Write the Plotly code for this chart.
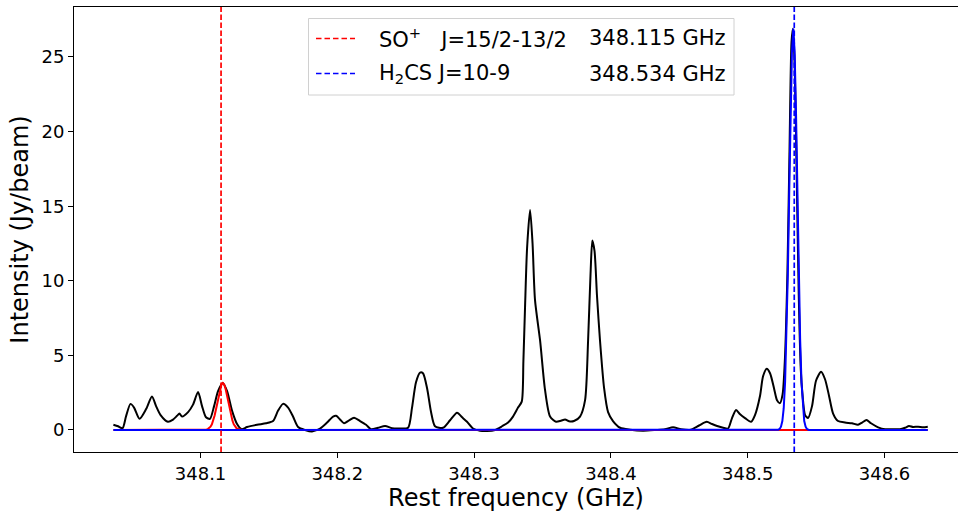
import plotly.graph_objects as go

# Observed spectrum (GHz, Jy/beam)
freq_obs = [
    348.0363, 348.0397, 348.0430, 348.0455, 348.0488, 348.0514, 348.0554, 348.0602,
    348.0645, 348.0675, 348.0708, 348.0762, 348.0799, 348.0828, 348.0846, 348.0865,
    348.0909, 348.0945, 348.0982, 348.1011, 348.1040, 348.1069, 348.1099, 348.1128,
    348.1162, 348.1194, 348.1230, 348.1267, 348.1301, 348.1340, 348.1413, 348.1479,
    348.1530, 348.1567, 348.1603, 348.1640, 348.1676, 348.1713, 348.1764, 348.1815,
    348.1874, 348.1925, 348.1969, 348.1991, 348.2020, 348.2049, 348.2086, 348.2122,
    348.2166, 348.2210, 348.2246, 348.2298, 348.2349, 348.2400, 348.2458, 348.2517,
    348.2546, 348.2575, 348.2605, 348.2626, 348.2656, 348.2685, 348.2714, 348.2773,
    348.2824, 348.2875, 348.2912, 348.2948, 348.2992, 348.3043, 348.3094, 348.3153,
    348.3204, 348.3248, 348.3284, 348.3321, 348.3348, 348.3360, 348.3372, 348.3387,
    348.3409, 348.3427, 348.3445, 348.3482, 348.3518, 348.3555, 348.3599, 348.3635,
    348.3665, 348.3694, 348.3730, 348.3774, 348.3811, 348.3833, 348.3851, 348.3864,
    348.3880, 348.3898, 348.3920, 348.3950, 348.3979, 348.4015, 348.4067, 348.4140,
    348.4235, 348.4330, 348.4395, 348.4454, 348.4512, 348.4578, 348.4644, 348.4700,
    348.4739, 348.4776, 348.4820, 348.4856, 348.4885, 348.4915, 348.4944, 348.4980,
    348.5024, 348.5053, 348.5090, 348.5112, 348.5139, 348.5163, 348.5192, 348.5214,
    348.5236, 348.5255, 348.5272, 348.5290, 348.5305, 348.5320, 348.5330, 348.5343,
    348.5358, 348.5373, 348.5388, 348.5400, 348.5419, 348.5441, 348.5470, 348.5499,
    348.5536, 348.5565, 348.5594, 348.5624, 348.5660, 348.5711, 348.5762, 348.5806,
    348.5836, 348.5868, 348.5901, 348.5953, 348.6004, 348.6062, 348.6113, 348.6150,
    348.6179, 348.6208, 348.6245, 348.6282, 348.6316,
]
flux_obs = [
    0.35, 0.25, 0.12, 0.90, 1.75, 1.50, 0.75, 1.40,
    2.25, 1.60, 1.00, 0.55, 0.70, 0.95, 1.10, 0.90,
    1.20, 1.70, 2.55, 1.60, 0.85, 0.75, 1.60, 2.60,
    3.15, 2.60, 1.30, 0.40, 0.05, 0.20, 0.35, 0.45,
    0.60, 1.30, 1.75, 1.50, 0.90, 0.20, 0.00, -0.10,
    0.10, 0.50, 0.90, 0.95, 0.70, 0.45, 0.65, 0.82,
    0.60, 0.35, 0.05, 0.15, 0.27, 0.12, 0.10, 0.15,
    1.50, 3.20, 3.85, 3.80, 2.80, 1.20, 0.25, 0.15,
    0.65, 1.15, 0.85, 0.55, 0.10, -0.05, -0.07, 0.00,
    0.25, 0.50, 0.90, 1.50, 1.90, 4.60, 8.20, 12.20,
    14.75, 12.50, 8.70, 6.00, 2.70, 0.90, 0.55, 0.62,
    0.70, 0.58, 0.60, 0.90, 2.00, 6.00, 10.50, 12.70,
    12.00, 9.00, 6.00, 2.80, 1.20, 0.60, 0.15, 0.02,
    -0.05, 0.00, 0.05, 0.18, 0.05, 0.00, 0.30, 0.55,
    0.40, 0.27, 0.15, 0.10, 0.80, 1.34, 1.05, 0.80,
    0.55, 1.00, 2.30, 3.60, 4.10, 3.80, 2.80, 2.00,
    1.80, 2.40, 4.80, 10.50, 18.50, 26.00, 26.90, 24.50,
    17.00, 9.00, 4.00, 2.40, 1.00, 0.80, 1.60, 3.30,
    3.90, 3.40, 2.30, 1.10, 0.60, 0.50, 0.45, 0.35,
    0.50, 0.67, 0.45, 0.18, 0.05, 0.05, 0.05, 0.15,
    0.27, 0.20, 0.22, 0.18, 0.22,
]

# Gaussian fit of the SO+ line
so_fit_freq = [
    348.0363, 348.1023,
    348.1033, 348.1043, 348.1053, 348.1063, 348.1073, 348.1083, 348.1093, 348.1103,
    348.1113, 348.1123, 348.1133, 348.1143, 348.1153, 348.1163, 348.1173, 348.1183,
    348.1193, 348.1203, 348.1213, 348.1223, 348.1233, 348.1243, 348.1253, 348.1263,
    348.1273, 348.1283, 348.1293,
    348.1303, 348.6316,
]
so_fit_flux = [
    0.0, 0.0,
    0.01, 0.03, 0.06, 0.12, 0.22, 0.38, 0.63, 0.97,
    1.39, 1.86, 2.34, 2.76, 3.05, 3.15, 3.05, 2.76,
    2.34, 1.86, 1.39, 0.97, 0.63, 0.38, 0.22, 0.12,
    0.06, 0.03, 0.01,
    0.0, 0.0,
]

# Gaussian fit of the H2CS line
h2cs_fit_freq = [
    348.0363, 348.5213,
    348.5223, 348.5233, 348.5243, 348.5253, 348.5263, 348.5273, 348.5283, 348.5293,
    348.5303, 348.5313, 348.5323, 348.5333, 348.5343, 348.5353, 348.5363, 348.5373,
    348.5383, 348.5393, 348.5403, 348.5413, 348.5423, 348.5433, 348.5443,
    348.5453, 348.6316,
]
h2cs_fit_flux = [
    0.0, 0.0,
    0.02, 0.07, 0.22, 0.60, 1.46, 3.20, 6.10, 10.40,
    15.80, 21.20, 25.30, 26.90, 25.30, 21.20, 15.80, 10.40,
    6.10, 3.20, 1.46, 0.60, 0.22, 0.07, 0.02,
    0.0, 0.0,
]

# Catalogue rest frequencies of the identified transitions
line_freqs = [348.115, 348.534]
line_colors = ["red", "blue"]
line_names = ["SO<sup>+</sup>\u00a0\u00a0\u00a0J=15/2-13/2", "H<sub>2</sub>CS J=10-9"]
line_freq_text = ["348.115 GHz", "348.534 GHz"]

x_ticks = [348.1, 348.2, 348.3, 348.4, 348.5, 348.6]
x_tick_text = ["348.1", "348.2", "348.3", "348.4", "348.5", "348.6"]
y_ticks = [0, 5, 10, 15, 20, 25]

FONT = "DejaVu Sans"
W, H = 958, 512
ML, MR, MT, MB = 74, 0, 7, 60
PW, PH = W - ML - MR, H - MT - MB


def px(x):
    return (x - ML) / PW


def py(y):
    return (H - MB - y) / PH


fig = go.Figure()
fig.add_trace(go.Scatter(x=freq_obs, y=flux_obs, mode="lines",
                         line=dict(color="black", width=2, shape="spline", smoothing=0.7),
                         showlegend=False))
fig.add_trace(go.Scatter(x=so_fit_freq, y=so_fit_flux, mode="lines",
                         line=dict(color="red", width=2), showlegend=False))
fig.add_trace(go.Scatter(x=h2cs_fit_freq, y=h2cs_fit_flux, mode="lines",
                         line=dict(color="blue", width=2), showlegend=False))

for f, c in zip(line_freqs, line_colors):
    fig.add_vline(x=f, line=dict(color=c, width=1.7, dash="5.5px,2.5px"))

# legend panel
fig.add_shape(type="rect", xref="paper", yref="paper",
              x0=px(308.5), x1=px(734), y0=py(95), y1=py(18.5),
              line=dict(color="#d0d0d0", width=1), fillcolor="rgba(255,255,255,0.8)")
for i, (c, name, ftxt) in enumerate(zip(line_colors, line_names, line_freq_text)):
    yy = 38.5 + 35 * i
    fig.add_shape(type="line", xref="paper", yref="paper",
                  x0=px(316), x1=px(355), y0=py(yy), y1=py(yy),
                  line=dict(color=c, width=1.7, dash="5.5px,3px"))
    fig.add_annotation(xref="paper", yref="paper", x=px(377), y=py(yy),
                       text=name, showarrow=False, xanchor="left", yanchor="middle",
                       font=dict(family=FONT, size=21, color="black"))
    fig.add_annotation(xref="paper", yref="paper", x=px(586.5), y=py(yy),
                       text=ftxt, showarrow=False, xanchor="left", yanchor="middle",
                       font=dict(family=FONT, size=21, color="black"))

fig.update_layout(
    width=W, height=H,
    margin=dict(l=ML, r=MR, t=MT, b=MB, pad=0),
    paper_bgcolor="white", plot_bgcolor="white",
    font=dict(family=FONT, color="black"),
    xaxis=dict(
        range=[348.0075, 348.6537],
        tickmode="array", tickvals=x_ticks, ticktext=x_tick_text,
        ticks="outside", ticklen=5, tickwidth=1, tickcolor="black",
        tickfont=dict(family=FONT, size=18),
        showline=True, mirror=True, linecolor="black", linewidth=1,
        showgrid=False, zeroline=False, automargin=False,
        title=dict(text="Rest frequency (GHz)", font=dict(family=FONT, size=24), standoff=1),
    ),
    yaxis=dict(
        range=[-1.475, 28.35],
        tickmode="array", tickvals=y_ticks,
        ticks="outside", ticklen=5, tickwidth=1, tickcolor="black",
        tickfont=dict(family=FONT, size=18),
        showline=True, mirror=False, linecolor="black", linewidth=1,
        showgrid=False, zeroline=False, automargin=False,
        title=dict(text="Intensity (Jy/beam)", font=dict(family=FONT, size=24), standoff=6),
    ),
)

fig.write_html("out.html")
